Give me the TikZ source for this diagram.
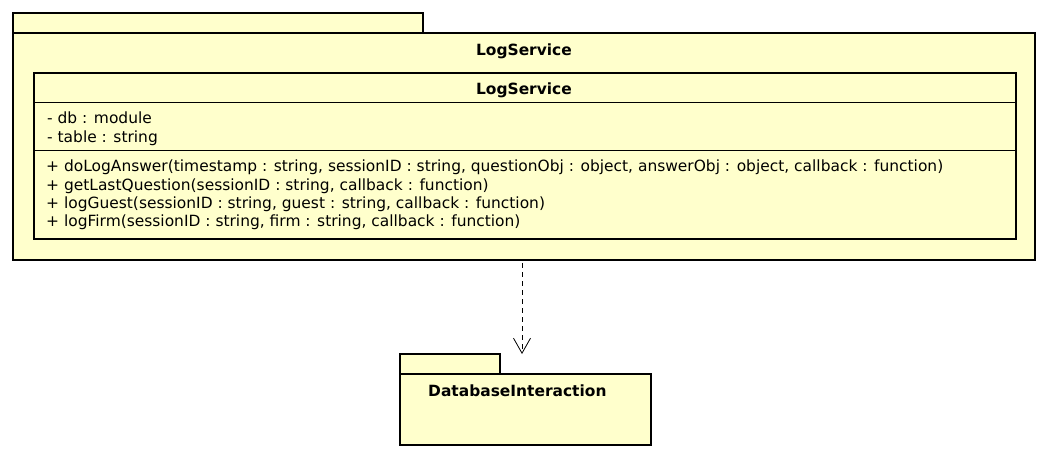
\documentclass[tikz,border=0pt]{standalone}
\usepackage{fontspec}
\setmainfont{DejaVu Sans}
\usetikzlibrary{arrows.meta}
\definecolor{pkgfill}{RGB}{255,255,204}
\begin{document}
\begin{tikzpicture}[x=1pt,y=-1pt,
  box/.style={draw=black,fill=pkgfill,line width=2.8pt,inner sep=0pt,outer sep=0pt},
  sep/.style={draw=black,line width=0.9pt},
  txt/.style={font=\fontsize{15.45}{17}\selectfont,inner sep=0pt,anchor=base west},
  ttl/.style={font=\fontsize{15.45}{17}\selectfont\bfseries,inner sep=0pt,anchor=base},
  dep/.style={draw=black,line width=0.8pt,dash pattern=on 5pt off 4pt,-{Straight Barb[length=15pt,width=17pt,line width=0.8pt]}}
]
\useasboundingbox (0,0) rectangle (1049,458);
% outer package
\node[box,minimum width=410pt,minimum height=20pt,anchor=north west] (ltab) at (13,13) {};
\node[box,minimum width=1022pt,minimum height=227pt,anchor=north west] (lbody) at (13,33) {};
\node[ttl] (ltitle) at (524,55) {LogService};
% class
\node[box,minimum width=982pt,minimum height=166pt,anchor=north west] (cls) at (34,73) {};
\node[ttl] (ctitle) at (524,94) {LogService};
\draw[sep] (cls.west |- 0,102) -- (cls.east |- 0,102);
\draw[sep] (cls.west |- 0,150) -- (cls.east |- 0,150);
\node[txt] (a1) at (47,123) {- db : module};
\node[txt] (a2) at (47,142) {- table : string};
\node[txt] (m1) at (46,171) {+ doLogAnswer(timestamp : string, sessionID : string, questionObj : object, answerObj : object, callback : function)};
\node[txt] (m2) at (46,190) {+ getLastQuestion(sessionID : string, callback : function)};
\node[txt] (m3) at (46,208) {+ logGuest(sessionID : string, guest : string, callback : function)};
\node[txt] (m4) at (46,226) {+ logFirm(sessionID : string, firm : string, callback : function)};
% database package
\node[box,minimum width=100pt,minimum height=20pt,anchor=north west] (dtab) at (400,354) {};
\node[box,minimum width=251pt,minimum height=71pt,anchor=north west] (dbody) at (400,374) {};
\node[txt,font=\fontsize{15.45}{17}\selectfont\bfseries] (dtitle) at (428,396) {DatabaseInteraction};
% dependency
\coordinate (ax) at (522,0);
\draw[dep] (lbody.south -| ax) ++(0,3) -- (dtab.north -| ax);
\end{tikzpicture}
\end{document}
